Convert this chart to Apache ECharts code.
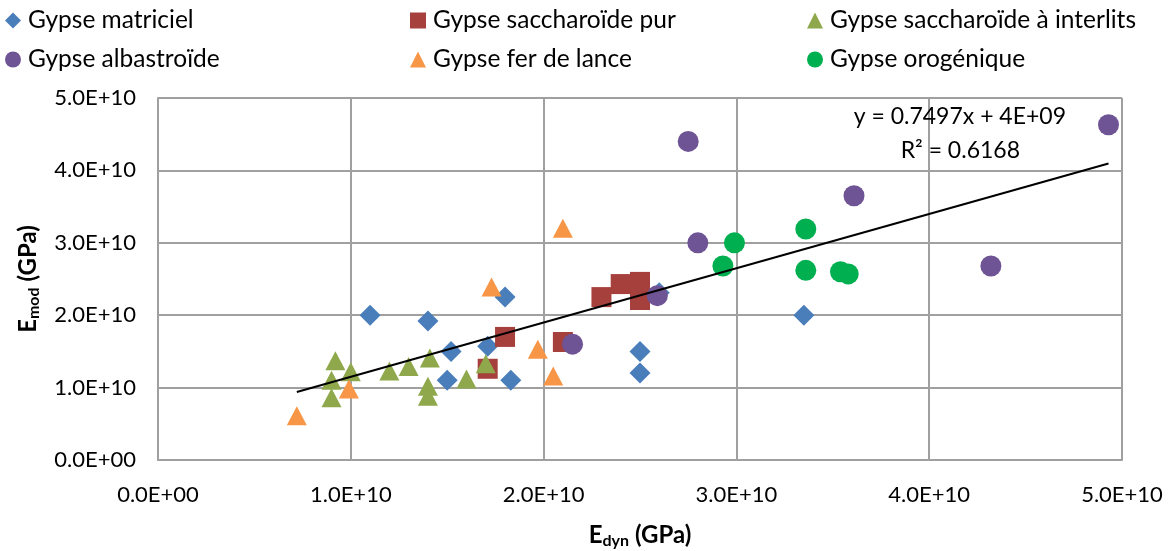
<!DOCTYPE html>
<html>
<head>
<meta charset="utf-8">
<script src="https://cdn.jsdelivr.net/npm/echarts@6/dist/echarts.min.js"></script>
<style>
html,body{margin:0;padding:0;background:#fff;}
#chart{width:1175px;height:551px;}
</style>
</head>
<body>
<div id="chart"></div>
<script>
// ---- data (Edyn, Emod) in Pa ----
const seriesNames = ['Gypse matriciel','Gypse saccharoïde pur','Gypse saccharoïde à interlits','Gypse albastroïde','Gypse fer de lance','Gypse orogénique'];
const matriciel = [[1.10e10,2.00e10],[1.40e10,1.92e10],[1.80e10,2.25e10],[1.52e10,1.50e10],[1.71e10,1.57e10],[1.50e10,1.10e10],[1.83e10,1.10e10],[2.50e10,1.50e10],[2.50e10,1.20e10],[3.35e10,2.00e10],[2.60e10,2.31e10]];
const saccharoidePur = [[1.80e10,1.70e10],[1.71e10,1.26e10],[2.10e10,1.63e10],[2.30e10,2.25e10],[2.40e10,2.43e10],[2.50e10,2.46e10],[2.50e10,2.21e10]];
const interlits = [[0.92e10,1.37e10],[0.90e10,1.10e10],[0.90e10,0.86e10],[1.00e10,1.22e10],[1.20e10,1.23e10],[1.30e10,1.29e10],[1.41e10,1.41e10],[1.40e10,1.02e10],[1.40e10,0.88e10],[1.60e10,1.12e10],[1.70e10,1.33e10]];
const albastroide = [[2.15e10,1.60e10],[2.59e10,2.27e10],[2.75e10,4.40e10],[2.80e10,3.00e10],[3.61e10,3.65e10],[4.93e10,4.63e10],[4.32e10,2.68e10]];
const ferDeLance = [[0.72e10,0.61e10],[0.99e10,0.98e10],[1.73e10,2.39e10],[1.97e10,1.53e10],[2.05e10,1.16e10],[2.10e10,3.20e10]];
const orogenique = [[2.99e10,3.00e10],[2.93e10,2.68e10],[3.36e10,3.19e10],[3.36e10,2.62e10],[3.54e10,2.60e10],[3.58e10,2.57e10]];
// trendline as printed on the chart
const trendSlope = 0.7497, trendIntercept = 4e9;
const trendXRange = [0.72e10, 4.93e10];
const xTickLabels = ['0.0E+00','1.0E+10','2.0E+10','3.0E+10','4.0E+10','5.0E+10'];
const yTickLabels = ['0.0E+00','1.0E+10','2.0E+10','3.0E+10','4.0E+10','5.0E+10'];
const trendText = ['y = 0.7497x + 4E+09','R² = 0.6168'];

const FONT = 'Lato, "Open Sans", sans-serif';
const colors = ['#4A7EBB','#A5403D','#8EA84B','#6F5495','#F79646','#00B050'];
const symbols = ['diamond','rect','triangle','circle','triangle','circle'];
const sizes = [[21,21],[20,20],[20,19],[21,21],[20,19],[21,21]];
const datasets = [matriciel, saccharoidePur, interlits, albastroide, ferDeLance, orogenique];

const trendData = trendXRange.map(x => [x, trendSlope * x + trendIntercept]);

const chart = echarts.init(document.getElementById('chart'), null, {renderer:'canvas'});

const legendPos = [
  {left: 5, top: 8}, {left: 410, top: 8}, {left: 807, top: 8},
  {left: 5, top: 47}, {left: 410, top: 47}, {left: 807, top: 47}
];
const legends = seriesNames.map((n,i) => ({
  data: [n], left: legendPos[i].left, top: legendPos[i].top, padding: 0,
  itemWidth: 16, itemHeight: 16, itemGap: 0,
  textStyle: {fontFamily: FONT, fontSize: 24.5, color: '#000', padding: [0,0,0,2]},
  selectedMode: false
}));

const series = datasets.map((d,i) => ({
  name: seriesNames[i], type: 'scatter', data: d,
  symbol: symbols[i], symbolSize: sizes[i],
  itemStyle: {color: colors[i], opacity: 1},
  z: 2 + i
}));
series.push({
  name: 'trend', type: 'line', data: trendData, symbol: 'none',
  lineStyle: {color: '#000', width: 2}, z: 20, silent: true
});

const axisLabelStyle = {fontFamily: FONT, fontSize: 22, color: '#000'};
const nameRich = {
  b: {fontFamily: FONT, fontSize: 24, fontWeight: 'bold', color: '#000'},
  s: {fontFamily: FONT, fontSize: 16, fontWeight: 'bold', color: '#000', verticalAlign: 'bottom', padding: [11,0,0,0]}
};
const option = {
  animation: false,
  legend: legends,
  grid: {left: 158, right: 53, top: 98, bottom: 91, containLabel: false, outerBoundsMode: 'none'},
  xAxis: {
    type: 'value', min: 0, max: 5e10, interval: 1e10,
    axisLine: {show: true, lineStyle: {color: '#a0a0a0', width: 2}},
    axisTick: {show: false},
    splitLine: {show: true, lineStyle: {color: '#a0a0a0', width: 2}},
    axisLabel: Object.assign({margin: 24, formatter: v => xTickLabels[Math.round(v/1e10)]}, axisLabelStyle),
    name: '{b|E}{s|dyn}{b| (GPa)}', nameLocation: 'middle', nameGap: 62,
    nameTextStyle: {rich: nameRich}
  },
  yAxis: {
    type: 'value', min: 0, max: 5e10, interval: 1e10,
    axisLine: {show: true, lineStyle: {color: '#a0a0a0', width: 2}},
    axisTick: {show: false},
    splitLine: {show: true, lineStyle: {color: '#a0a0a0', width: 2}},
    axisLabel: Object.assign({margin: 22, formatter: v => yTickLabels[Math.round(v/1e10)]}, axisLabelStyle),
    name: '{b|E}{s|mod}{b| (GPa)}', nameLocation: 'middle', nameGap: 116, nameRotate: 90,
    nameTextStyle: {rich: nameRich}
  },
  graphic: [
    {type: 'text', right: 109, top: 105, style: {text: trendText[0], font: '23px ' + FONT, fill: '#000', textAlign: 'right'}, z: 30},
    {type: 'text', right: 155, top: 139, style: {text: trendText[1], font: '23px ' + FONT, fill: '#000', textAlign: 'right'}, z: 30}
  ],
  series: series
};
chart.setOption(option);
</script>
</body>
</html>
